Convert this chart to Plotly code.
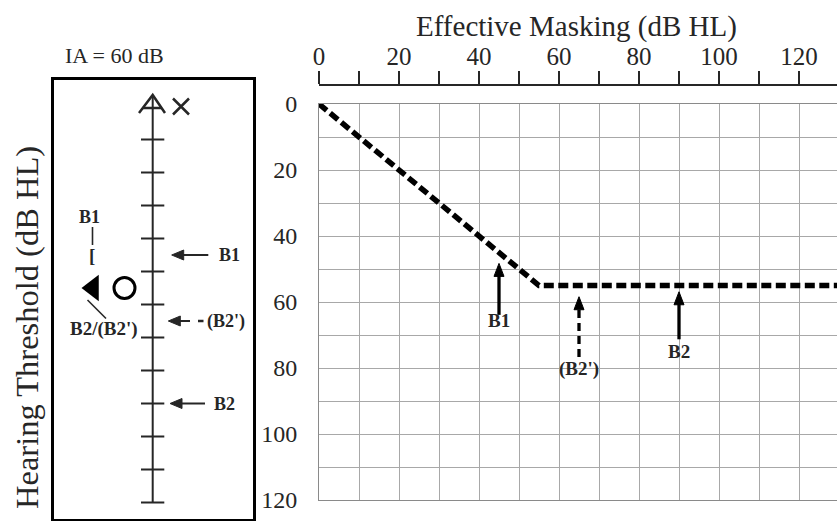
import plotly.graph_objects as go

W, H = 837, 521
SERIF = "Liberation Serif"
INK = "#262626"

# ---------------- data ----------------
# Right panel: masking plateau function
masking_db = [0, 55, 130]
threshold_db = [0, 55, 55]
x_ticks = list(range(0, 140, 10))
x_tick_labels = [str(v) if v % 20 == 0 else "" for v in x_ticks]
y_ticks = list(range(0, 130, 10))
y_tick_labels = [str(v) if v % 20 == 0 else "" for v in y_ticks]

arrow_names = ["B1", "(B2')", "B2"]
arrow_x = [45, 65, 90]
arrow_tip = [48.3, 58.4, 56.9]
arrow_tail = [63.9, 76.7, 71.3]
arrow_label_y = [65.6, 80.2, 75.0]
arrow_dashed = [False, True, False]

# Left panel
left_tick_db = list(range(10, 130, 10))
left_arrow_names = ["B1", "(B2')", "B2"]
left_arrow_db = [45, 65, 90]
bracket_db = 45
unmasked_db = 55
x_mark_db = 0
ia_text = "IA = 60 dB"

# pixel scales of the right panel
PX_X = 4.0   # px per dB (masking)
PX_Y = 3.3   # px per dB (threshold)


def px(x):
    return x / W


def py(y):
    return 1 - y / H


# left panel vertical scale: 0 dB at 106.5 px, 3.3 px per dB
def ldb(ypix):
    return (ypix - 106.5) / 3.3


fig = go.Figure()

# ---- right panel ----
fig.add_trace(go.Scatter(x=masking_db, y=threshold_db, mode="lines",
                         line=dict(color="black", width=5.5, dash="10px,4.5px"),
                         xaxis="x", yaxis="y", hoverinfo="skip"))
HL, HW = 13 / PX_Y, 5 / PX_X
for name, x, tip, tail, dashed in zip(arrow_names, arrow_x, arrow_tip, arrow_tail, arrow_dashed):
    fig.add_trace(go.Scatter(x=[x, x], y=[tail, tip + HL * 0.9], mode="lines",
                             line=dict(color="black", width=3.3,
                                       dash="8px,5px" if dashed else "solid"),
                             xaxis="x", yaxis="y", hoverinfo="skip"))
    fig.add_trace(go.Scatter(x=[x, x - HW, x + HW, x], y=[tip, tip + HL, tip + HL, tip],
                             mode="lines", fill="toself", fillcolor="black",
                             line=dict(color="black", width=1),
                             xaxis="x", yaxis="y", hoverinfo="skip"))
# invisible trace so the top axis renders
fig.add_trace(go.Scatter(x=[0], y=[0], mode="markers", marker=dict(opacity=0),
                         xaxis="x3", yaxis="y", hoverinfo="skip"))

annotations = []
for name, x, ly in zip(arrow_names, arrow_x, arrow_label_y):
    annotations.append(dict(x=x, y=ly, xref="x", yref="y", showarrow=False,
                            xanchor="center", yanchor="middle",
                            text="<b>%s</b>" % name,
                            font=dict(family=SERIF, size=19, color=INK)))

# ---- left panel (x2 in pixel columns, y2 in dB) ----
LX = 152.7
fig.add_trace(go.Scatter(x=[LX, LX], y=[ldb(95), 120], mode="lines",
                         line=dict(color=INK, width=2), xaxis="x2", yaxis="y2",
                         hoverinfo="skip"))
tx, ty = [], []
for d in left_tick_db:
    tx += [141, 164.3, None]
    ty += [d, d, None]
fig.add_trace(go.Scatter(x=tx, y=ty, mode="lines", line=dict(color=INK, width=2),
                         xaxis="x2", yaxis="y2", hoverinfo="skip"))
# "A" arrow glyph at the top of the scale
fig.add_trace(go.Scatter(x=[139, LX, 165, None, 142.8, 161.8],
                         y=[ldb(113), ldb(95), ldb(113), None, ldb(108), ldb(108)],
                         mode="lines", line=dict(color=INK, width=2.5),
                         xaxis="x2", yaxis="y2", hoverinfo="skip"))
# X (air conduction) mark
fig.add_trace(go.Scatter(x=[181], y=[x_mark_db], mode="markers",
                         marker=dict(symbol="x-thin", size=16, color=INK,
                                     line=dict(color=INK, width=2.5)),
                         xaxis="x2", yaxis="y2", hoverinfo="skip"))
# unmasked triangle and circle
fig.add_trace(go.Scatter(x=[93], y=[unmasked_db], mode="markers",
                         marker=dict(symbol="triangle-left", size=23, color="black",
                                     line=dict(width=0)),
                         xaxis="x2", yaxis="y2", hoverinfo="skip"))
fig.add_trace(go.Scatter(x=[124.5], y=[unmasked_db], mode="markers",
                         marker=dict(symbol="circle-open", size=21, color="black",
                                     line=dict(color="black", width=3)),
                         xaxis="x2", yaxis="y2", hoverinfo="skip"))
# leader lines
fig.add_trace(go.Scatter(x=[92.5, 92.5, None, 87.5, 106],
                         y=[ldb(227), ldb(245), None, ldb(300), ldb(318.5)],
                         mode="lines", line=dict(color=INK, width=1.6),
                         xaxis="x2", yaxis="y2", hoverinfo="skip"))
# extra dash of the (B2') arrow
fig.add_trace(go.Scatter(x=[198, 203.5], y=[left_arrow_db[1]] * 2, mode="lines",
                         line=dict(color=INK, width=2.5), xaxis="x2", yaxis="y2",
                         hoverinfo="skip"))

left_tip = [171.7, 168.3, 170]
left_tail = [208.3, 190, 205]
left_label_x = [216.5, 205, 212]
LHL, LHW = 12, 5 / 3.3
for name, d, tip, tail, lx in zip(left_arrow_names, left_arrow_db, left_tip, left_tail,
                                  left_label_x):
    fig.add_trace(go.Scatter(x=[tip + LHL * 0.9, tail], y=[d, d], mode="lines",
                             line=dict(color=INK, width=2.2),
                             xaxis="x2", yaxis="y2", hoverinfo="skip"))
    fig.add_trace(go.Scatter(x=[tip, tip + LHL, tip + LHL, tip],
                             y=[d, d - LHW, d + LHW, d],
                             mode="lines", fill="toself", fillcolor=INK,
                             line=dict(color=INK, width=1),
                             xaxis="x2", yaxis="y2", hoverinfo="skip"))
    annotations.append(dict(x=lx, y=d, xref="x2", yref="y2", showarrow=False,
                            xanchor="left", yanchor="middle", text="<b>%s</b>" % name,
                            font=dict(family=SERIF, size=18, color=INK)))

annotations.append(dict(x=91.5, y=bracket_db, xref="x2", yref="y2", showarrow=False,
                        xanchor="center", yanchor="middle",
                        text="<b>[</b>", font=dict(family=SERIF, size=19, color=INK)))
annotations.append(dict(x=89, y=ldb(216.5), xref="x2", yref="y2", showarrow=False,
                        xanchor="center", yanchor="middle",
                        text="<b>B1</b>", font=dict(family=SERIF, size=18, color=INK)))
annotations.append(dict(x=104, y=ldb(329), xref="x2", yref="y2", showarrow=False,
                        xanchor="center", yanchor="middle",
                        text="<b>B2/(B2')</b>", font=dict(family=SERIF, size=19, color=INK)))

# titles
annotations.append(dict(x=px(576), y=py(26), xref="paper", yref="paper", showarrow=False,
                        xanchor="center", yanchor="middle",
                        text="Effective Masking (dB HL)",
                        font=dict(family=SERIF, size=29, color=INK)))
annotations.append(dict(x=px(27), y=py(328), xref="paper", yref="paper", showarrow=False,
                        xanchor="center", yanchor="middle",
                        text="Hearing Threshold (dB HL)", textangle=-90,
                        font=dict(family=SERIF, size=32.5, color=INK)))
annotations.append(dict(x=px(114.5), y=py(55), xref="paper", yref="paper", showarrow=False,
                        xanchor="center", yanchor="middle",
                        text=ia_text, font=dict(family=SERIF, size=22, color=INK)))

GRID = "#a8a8a8"
XMAX = (W - 319) / PX_X
fig.update_layout(
    template="none",
    width=W, height=H, margin=dict(l=0, r=0, t=0, b=0, pad=0), autosize=False,
    paper_bgcolor="white", plot_bgcolor="white", showlegend=False,
    xaxis=dict(domain=[px(319), 1], range=[0, XMAX], anchor="y", automargin=False,
               tickvals=x_ticks, showticklabels=False, ticks="",
               showgrid=True, gridcolor=GRID, gridwidth=1, zeroline=False,
               showline=True, linecolor="#8a8a8a", linewidth=1, mirror=True),
    yaxis=dict(domain=[py(500), py(104)], range=[120, 0], anchor="x", automargin=False,
               tickvals=y_ticks, ticktext=y_tick_labels, ticks="",
               ticklabelstandoff=16,
               tickfont=dict(family=SERIF, size=24, color=INK),
               showgrid=True, gridcolor=GRID, gridwidth=1, zeroline=False,
               showline=True, linecolor="#8a8a8a", linewidth=1),
    xaxis3=dict(overlaying="x", anchor="free", position=py(85), side="top",
                automargin=False,
                range=[0, XMAX], tickvals=x_ticks, ticktext=x_tick_labels,
                ticks="outside", ticklen=13, tickwidth=2, tickcolor=INK,
                ticklabelstandoff=-4,
                showline=True, linecolor=INK, linewidth=2, showgrid=False,
                zeroline=False, tickfont=dict(family=SERIF, size=25, color=INK)),
    xaxis2=dict(domain=[px(54), px(252.7)], range=[54, 252.7], anchor="y2",
                automargin=False,
                showgrid=False, zeroline=False, showticklabels=False, ticks="",
                showline=True, mirror=True, linecolor="black", linewidth=3),
    yaxis2=dict(domain=[py(519), py(80)], range=[ldb(519), ldb(80)], anchor="x2",
                automargin=False,
                showgrid=False, zeroline=False, showticklabels=False, ticks="",
                showline=True, mirror=True, linecolor="black", linewidth=3),
    annotations=annotations,
)

fig.write_html("out.html")
